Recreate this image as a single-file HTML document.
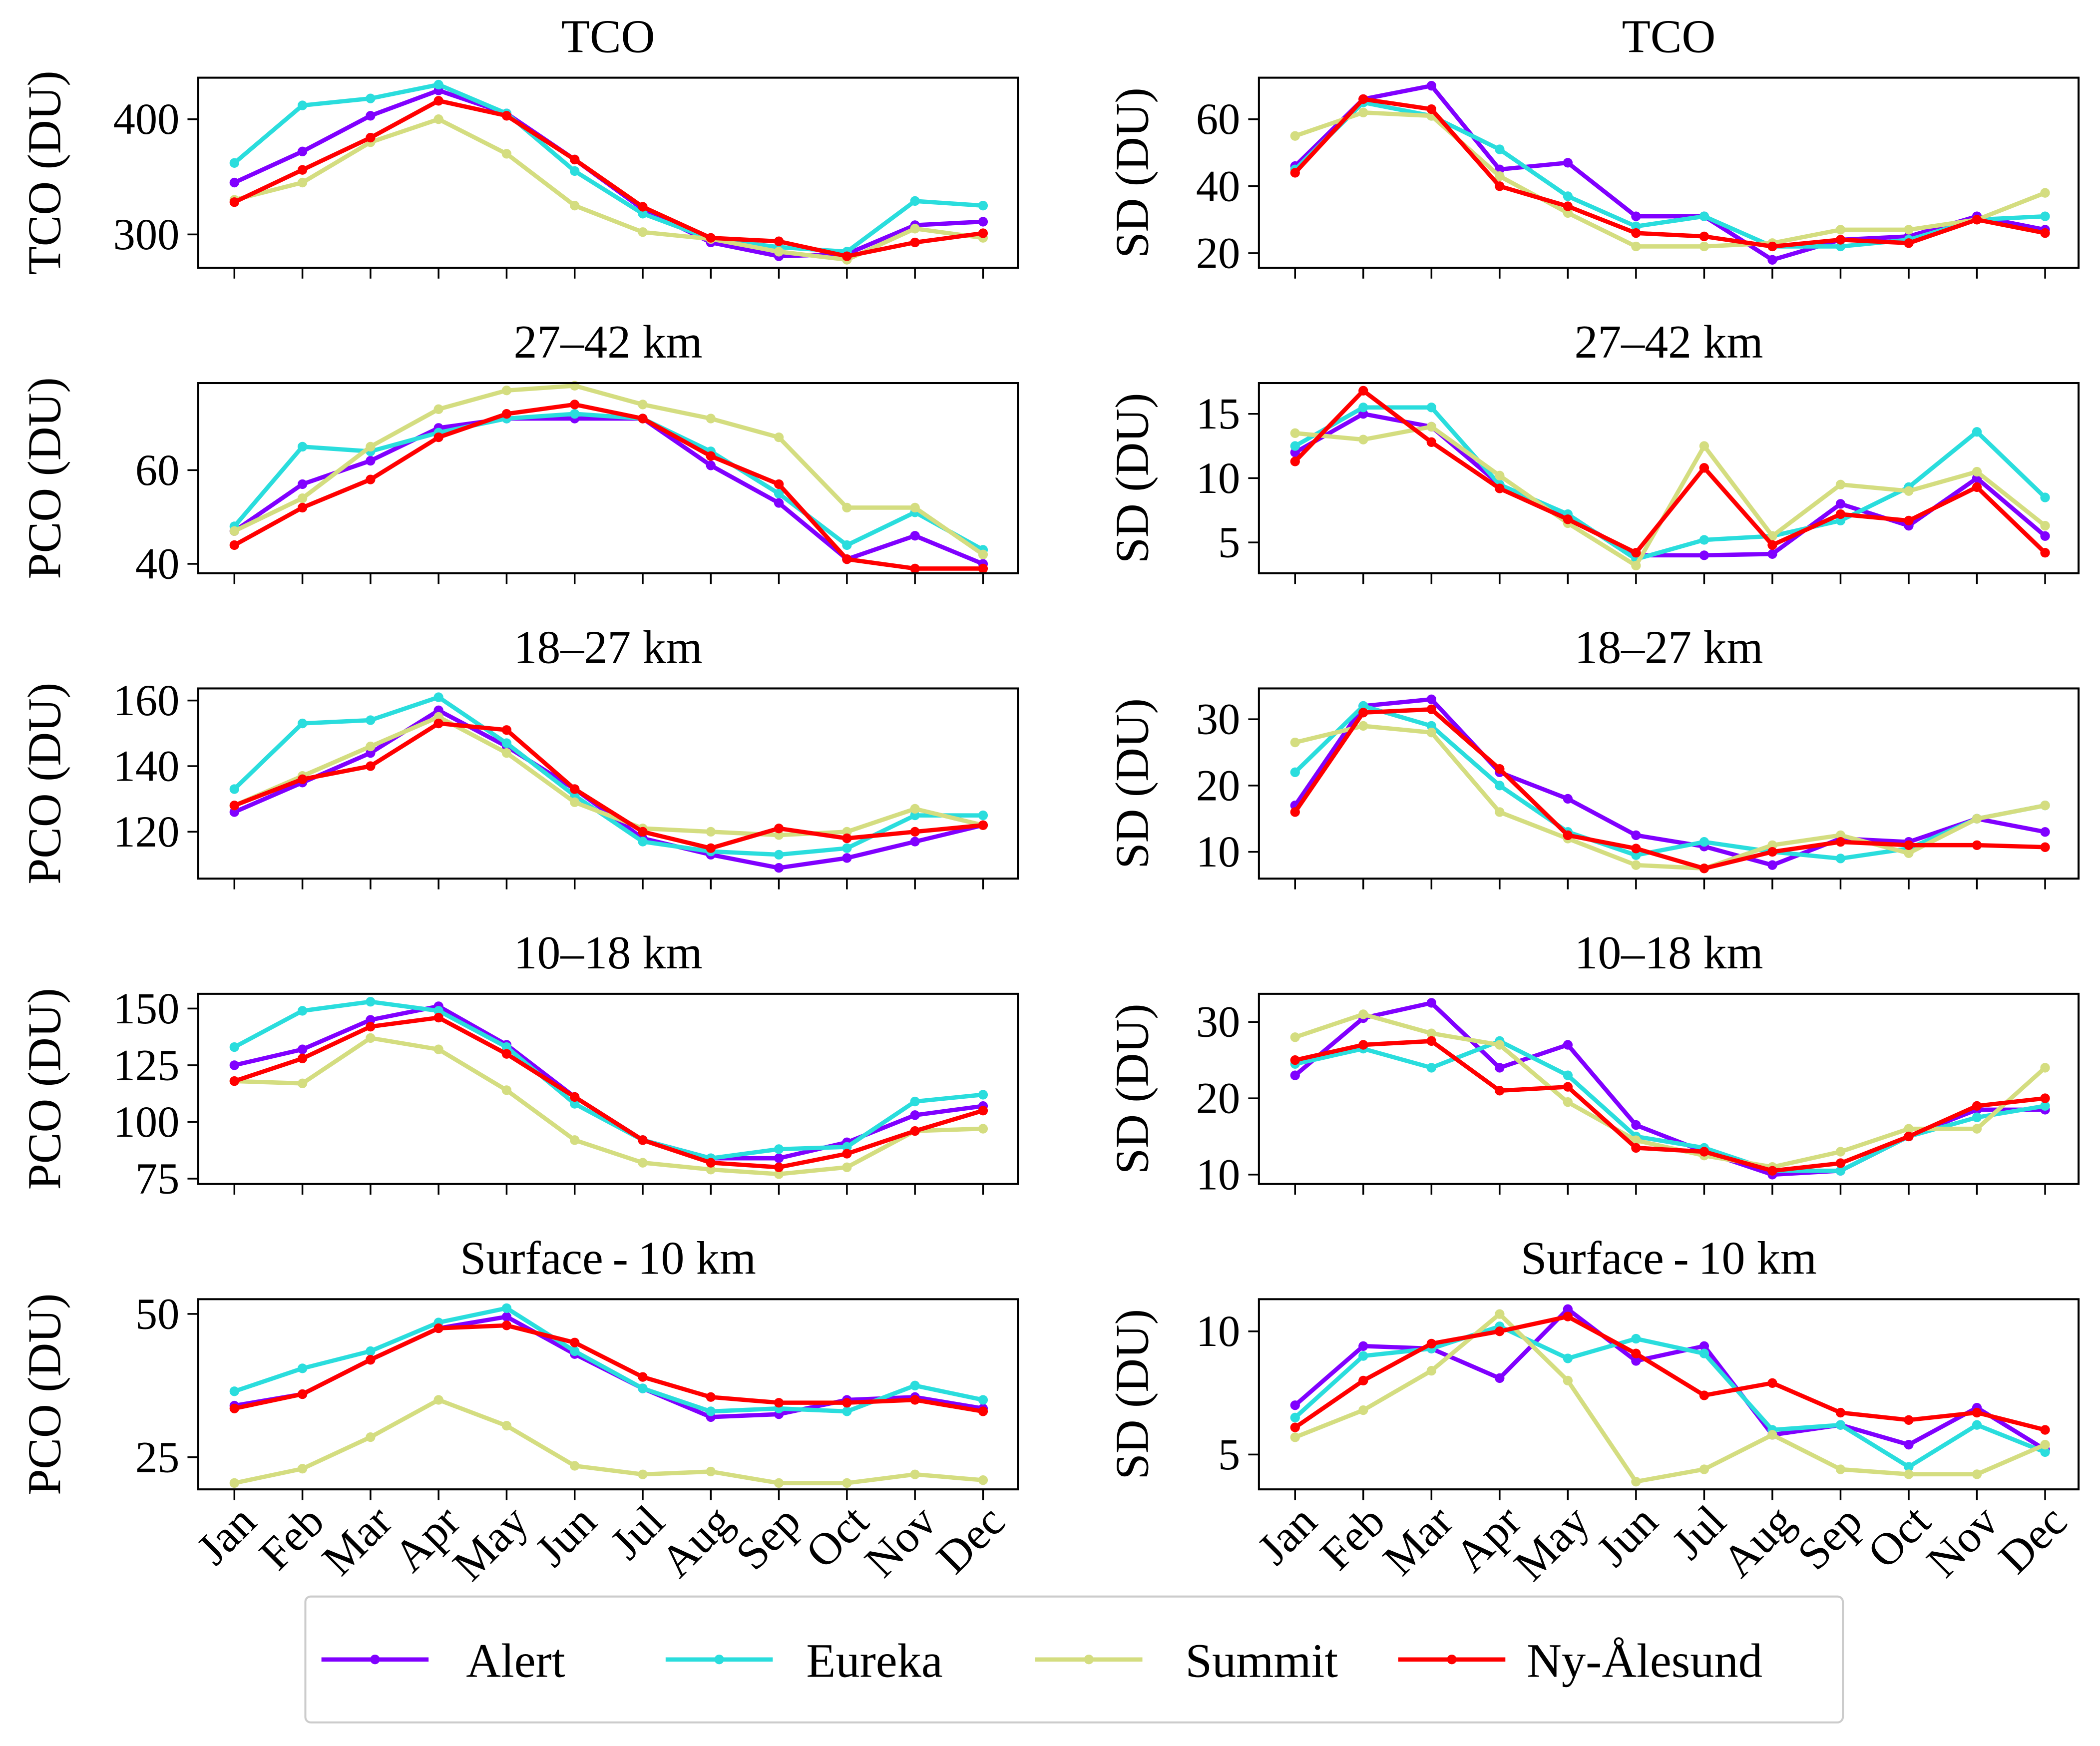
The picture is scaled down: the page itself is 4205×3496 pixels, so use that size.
<!DOCTYPE html>
<html><head><meta charset="utf-8"><style>
html,body{margin:0;padding:0;background:#fff}
svg{display:block}
text{font-family:"Liberation Serif",serif;fill:#000}
</style></head><body>
<svg id="chart" width="4205" height="3496" viewBox="0 0 1568 1303.6" xmlns="http://www.w3.org/2000/svg"></svg>
<script>
const months=["Jan","Feb","Mar","Apr","May","Jun","Jul","Aug","Sep","Oct","Nov","Dec"];
const stations=["Alert","Eureka","Summit","Ny-Ålesund"];
const colors=["#8000ff","#2adddd","#d4dd80","#ff0000"];
const tcoAlert=[345,372,403,425,405,365,322,293,281,283,308,311];
const tcoEureka=[362,412,418,430,405,355,318,296,289,285,329,325];
const tcoSummit=[330,345,380,400,370,325,302,296,285,278,305,297];
const tcoNy=[328,356,384,416,403,365,324,297,294,281,293,301];
const tcoSdAlert=[46,66,70,45,47,31,31,18,24,25,31,27];
const tcoSdEureka=[45,65,61,51,37,28,31,22,22,24,30,31];
const tcoSdSummit=[55,62,61,43,32,22,22,23,27,27,30,38];
const tcoSdNy=[44,66,63,40,34,26,25,22,24,23,30,26];
const p1Alert=[47,57,62,69,71,71,71,61,53,41,46,40];
const p1Eureka=[48,65,64,68,71,72,71,64,55,44,51,43];
const p1Summit=[47,54,65,73,77,78,74,71,67,52,52,42];
const p1Ny=[44,52,58,67,72,74,71,63,57,41,39,39];
const p1SdAlert=[12,15,14,9.5,7,4,4,4.1,8,6.3,10,5.5];
const p1SdEureka=[12.5,15.5,15.5,9.5,7.2,3.7,5.2,5.5,6.7,9.3,13.6,8.5];
const p1SdSummit=[13.5,13,14,10.2,6.5,3.2,12.5,5.5,9.5,9,10.5,6.3];
const p1SdNy=[11.3,16.8,12.8,9.2,6.8,4.2,10.8,4.8,7.2,6.7,9.3,4.2];
const p2Alert=[126,135,144,157,146,133,118,113,109,112,117,122];
const p2Eureka=[133,153,154,161,147,131,117,114,113,115,125,125];
const p2Summit=[128,137,146,155,144,129,121,120,119,120,127,122];
const p2Ny=[128,136,140,153,151,133,120,115,121,118,120,122];
const p2SdAlert=[17,32,33,22,18,12.5,10.8,8,12,11.5,15,13];
const p2SdEureka=[22,32,29,20,13,9.5,11.5,10,9,10.5,15,17];
const p2SdSummit=[26.5,29,28,16,12,8,7.5,11,12.5,9.8,15,17];
const p2SdNy=[16,31,31.5,22.5,12.5,10.5,7.5,10,11.5,11,11,10.7];
const p3Alert=[125,132,145,151,134,111,92,84,84,91,103,107];
const p3Eureka=[133,149,153,149,133,108,92,84,88,89,109,112];
const p3Summit=[118,117,137,132,114,92,82,79,77,80,96,97];
const p3Ny=[118,128,142,146,130,111,92,82,80,86,96,105];
const p3SdAlert=[23,30.5,32.5,24,27,16.5,13,10,10.5,15,18.5,18.5];
const p3SdEureka=[24.5,26.5,24,27.5,23,15,13.5,10.5,10.5,15,17.5,19];
const p3SdSummit=[28,31,28.5,27,19.5,14.5,12.5,11,13,16,16,24];
const p3SdNy=[25,27,27.5,21,21.5,13.5,13,10.5,11.5,15,19,20];
const p4Alert=[34,36,42,47.5,49.5,43,37,32,32.5,35,35.5,33.5];
const p4Eureka=[36.5,40.5,43.5,48.5,51,43.5,37,33,33.5,33,37.5,35];
const p4Summit=[20.5,23,28.5,35,30.5,23.5,22,22.5,20.5,20.5,22,21];
const p4Ny=[33.5,36,42,47.5,48,45,39,35.5,34.5,34.5,35,33];
const p4SdAlert=[7,9.4,9.3,8.1,10.9,8.8,9.4,5.8,6.2,5.4,6.9,5.2];
const p4SdEureka=[6.5,9,9.3,10.2,8.9,9.7,9.1,6,6.2,4.5,6.2,5.1];
const p4SdSummit=[5.7,6.8,8.4,10.7,8,3.9,4.4,5.8,4.4,4.2,4.2,5.4];
const p4SdNy=[6.1,8,9.5,10,10.6,9.1,7.4,7.9,6.7,6.4,6.7,6];
const titles=["TCO","27–42 km","18–27 km","10–18 km","Surface\u2009-\u200910 km"];
const leftTicks=[[300,400],[40,60],[120,140,160],[75,100,125,150],[25,50]];
const rightTicks=[[20,40,60],[5,10,15],[10,20,30],[10,20,30],[5,10]];

const rowsTop=[58,286,514,742,970],H=142;
const cols=[{x0:148,x1:760,j:175,d:734},{x0:940,x1:1552,j:967,d:1527}];
const calL=[[400,89,300,175],[60,351,40,421],[160,523,120,621],[150,753,75,880],[50,981,25,1088]];
const calR=[[60,89,20,189],[15,309,5,405],[30,537,10,636],[30,763,10,877],[10,994,5,1086]];
const leftSeries=[[tcoAlert,tcoEureka,tcoSummit,tcoNy],[p1Alert,p1Eureka,p1Summit,p1Ny],[p2Alert,p2Eureka,p2Summit,p2Ny],[p3Alert,p3Eureka,p3Summit,p3Ny],[p4Alert,p4Eureka,p4Summit,p4Ny]];
const rightSeries=[[tcoSdAlert,tcoSdEureka,tcoSdSummit,tcoSdNy],[p1SdAlert,p1SdEureka,p1SdSummit,p1SdNy],[p2SdAlert,p2SdEureka,p2SdSummit,p2SdNy],[p3SdAlert,p3SdEureka,p3SdSummit,p3SdNy],[p4SdAlert,p4SdEureka,p4SdSummit,p4SdNy]];

const svg=document.getElementById('chart');
const NS="http://www.w3.org/2000/svg";
function mk(tag,attrs,parent){const e=document.createElementNS(NS,tag);for(const k in attrs)e.setAttribute(k,attrs[k]);(parent||svg).appendChild(e);return e;}

function panel(r,c){
  const col=cols[c],top=rowsTop[r],cal=c?calR[r]:calL[r];
  const g=mk('g',{});
  
  
  const xs=i=>col.j+i*(col.d-col.j)/11;
  const ys=v=>cal[1]+(v-cal[0])*(cal[3]-cal[1])/(cal[2]-cal[0]);
  const t=mk('text',{x:(col.x0+col.x1)/2,y:top-19,'text-anchor':'middle','font-size':35},g);
  t.textContent=titles[r];
  
  
  months.forEach((m,i)=>{
    mk('line',{x1:xs(i),x2:xs(i),y1:top+H,y2:top+H+8,stroke:'#000','stroke-width':1.3},g);
    if(r===4){
      const tl=mk('text',{x:0,y:0,'text-anchor':'end','font-size':34,transform:`translate(${xs(i)+18},${top+H+26}) rotate(-45)`},g);
      tl.textContent=m;
      
      
    }
  });
  const ticks=c?rightTicks[r]:leftTicks[r];
  ticks.forEach(v=>{
    const y=ys(v);
    mk('line',{x1:col.x0-8,x2:col.x0,y1:y,y2:y,stroke:'#000','stroke-width':1.3},g);
    const tl=mk('text',{x:col.x0-14,y:y+11,'text-anchor':'end','font-size':33},g);
    tl.textContent=v;
    
    
  });
  const yl=mk('text',{x:0,y:0,'text-anchor':'middle','font-size':35,transform:`translate(${c?857:45},${top+H/2}) rotate(-90)`},g);
  yl.textContent=c?'SD (DU)':(r===0?'TCO (DU)':'PCO (DU)');
  
  
  const series=c?rightSeries[r]:leftSeries[r];
  series.forEach((arr,s)=>{
    const pts=arr.map((v,i)=>xs(i).toFixed(1)+','+ys(v).toFixed(1)).join(' ');
    const pl=mk('polyline',{points:pts,fill:'none',stroke:colors[s],'stroke-width':3.2,'stroke-linejoin':'round'},g);
    
    
    arr.forEach((v,i)=>{
      const cc=mk('circle',{cx:xs(i),cy:ys(v),r:3.6,fill:colors[s]},g);
      
      
    });
  });
  mk('rect',{x:col.x0,y:top,width:col.x1-col.x0,height:H,fill:'none',stroke:'#000','stroke-width':1.5},g);
}
for(let r=0;r<5;r++)for(let c=0;c<2;c++)panel(r,c);

const lg=mk('g',{});


mk('rect',{x:228,y:1192,width:1148,height:94,rx:4,fill:'#fff',stroke:'#ccc','stroke-width':1.5},lg);
const lx=[240,497,773,1044];
const tx=[348,602,885,1140];
stations.forEach((s,i)=>{
  const e=mk('g',{},lg);
  
  
  mk('line',{x1:lx[i],x2:lx[i]+80,y1:1239,y2:1239,stroke:colors[i],'stroke-width':3.2},e);
  mk('circle',{cx:lx[i]+40,cy:1239,r:3.6,fill:colors[i]},e);
  const t=mk('text',{x:tx[i],y:1252,'font-size':36},e);
  t.textContent=s;
});
</script>
</body></html>
